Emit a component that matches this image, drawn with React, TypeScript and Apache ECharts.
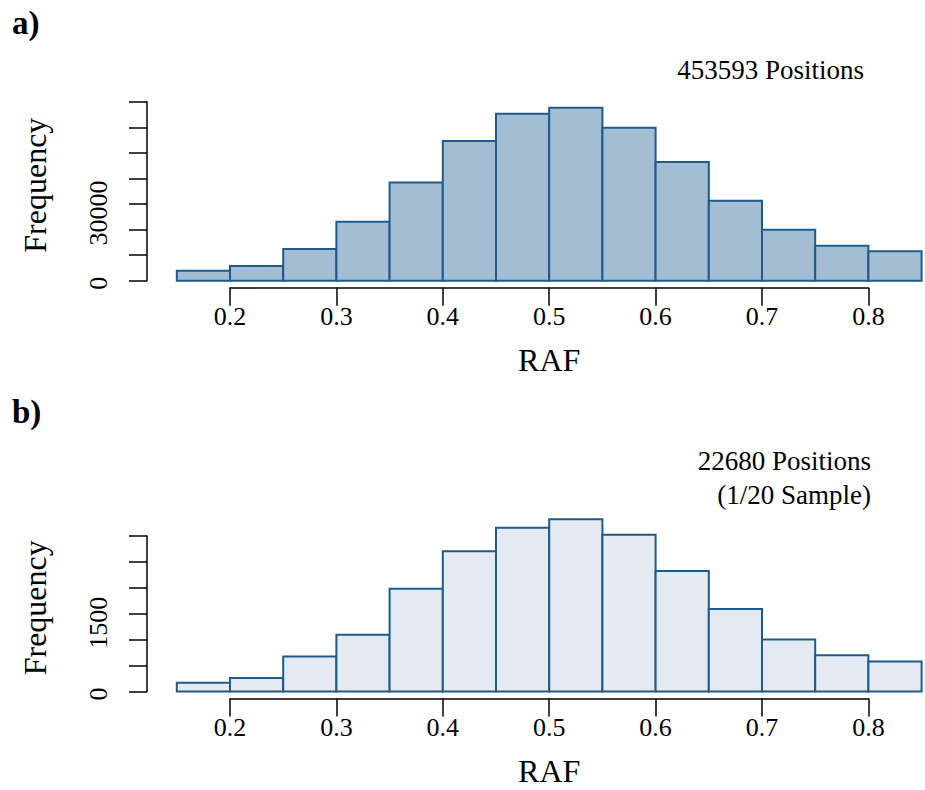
import React, { useEffect, useRef } from "react";
import * as echarts from "echarts";

// Histogram break points (RAF)
const breaks = [0.15, 0.2, 0.25, 0.3, 0.35, 0.4, 0.45, 0.5, 0.55, 0.6, 0.65, 0.7, 0.75, 0.8, 0.85];
// Panel a) counts: all 453593 positions
const countsAll = [3900, 5750, 12400, 23050, 38450, 54600, 65300, 67650, 59800, 46400, 31300, 19950, 13700, 11500];
// Panel b) counts: 1/20 sample, 22680 positions
const countsSample = [170, 260, 675, 1095, 1980, 2705, 3160, 3325, 3025, 2325, 1590, 1005, 700, 580];
// Tick labels that are printed on the frequency axes
const yLabelsTop = [0, 30000];
const yLabelsBottom = [0, 1500];
const xTickLabels = ["0.2", "0.3", "0.4", "0.5", "0.6", "0.7", "0.8"];

const STROKE = "#1d5a8e";
const FILL_A = "#a4bdd2";
const FILL_B = "#e3eaf1";
const FONT = "'Liberation Serif', 'Times New Roman', serif";

function binData(counts: number[]) {
  return counts.map((c, i) => [breaks[i], breaks[i + 1], c]);
}

function makeRender(fill: string) {
  return (params: any, api: any) => {
    const s = api.value(0);
    const e = api.value(1);
    const c = api.value(2);
    const p0 = api.coord([s, c]);
    const p1 = api.coord([e, 0]);
    return {
      type: "rect",
      shape: { x: p0[0], y: p0[1], width: p1[0] - p0[0], height: p1[1] - p0[1] },
      style: { fill, stroke: STROKE, lineWidth: 2 },
    };
  };
}

function xAxisCfg(gridIndex: number) {
  return {
    type: "value",
    gridIndex,
    min: 0.2,
    max: 0.8,
    interval: 0.1,
    offset: 7,
    name: "RAF",
    nameLocation: "middle",
    nameGap: 56,
    nameTextStyle: { fontFamily: FONT, fontSize: 32, color: "#000" },
    axisLine: { show: true, onZero: false, lineStyle: { color: "#000", width: 1.5 } },
    axisTick: { show: true, length: 18, lineStyle: { color: "#000", width: 1.5 } },
    axisLabel: {
      margin: 16,
      fontFamily: FONT,
      fontSize: 26,
      color: "#000",
      formatter: (v: number) => {
        const s = v.toFixed(1);
        return xTickLabels.indexOf(s) >= 0 ? s : "";
      },
    },
    splitLine: { show: false },
  };
}

function yAxisCfg(gridIndex: number, max: number, interval: number, shown: number[]) {
  const lab = { fontFamily: FONT, fontSize: 26, color: "#000" };
  return {
    type: "value",
    gridIndex,
    min: 0,
    max,
    interval,
    offset: 83,
    name: "Frequency",
    nameLocation: "middle",
    nameGap: 96,
    nameRotate: 90,
    nameTextStyle: { fontFamily: FONT, fontSize: 32, color: "#000", padding: [0, 0, 0, 12] },
    axisLine: { show: true, lineStyle: { color: "#000", width: 1.5 } },
    axisTick: { show: true, length: 18, lineStyle: { color: "#000", width: 1.5 } },
    axisLabel: {
      rotate: 90,
      margin: 36,
      ...lab,
      formatter: (v: number) => {
        if (shown.indexOf(v) < 0) return "";
        return v === 0 ? `{z|${v}}` : `{n|${v}}`;
      },
      rich: {
        z: { ...lab, padding: [0, 5, 0, 0] },
        n: { ...lab, padding: [0, 18, 0, 0] },
      },
    },
    splitLine: { show: false },
  };
}

export default function App() {
  const ref = useRef<HTMLDivElement>(null);
  useEffect(() => {
    document.body.style.margin = "0";
    const chart = echarts.init(ref.current!, undefined, { renderer: "svg" });
    chart.setOption({
      animation: false,
      backgroundColor: "#fff",
      grid: [
        { left: 230, top: 101.7, width: 638.4, height: 179 },
        { left: 230, top: 536, width: 638.4, height: 155.5 },
      ],
      xAxis: [xAxisCfg(0), xAxisCfg(1)],
      yAxis: [
        yAxisCfg(0, 70000, 10000, yLabelsTop),
        yAxisCfg(1, 3000, 500, yLabelsBottom),
      ],
      series: [
        {
          type: "custom",
          xAxisIndex: 0,
          yAxisIndex: 0,
          renderItem: makeRender(FILL_A),
          encode: { x: [0, 1], y: 2 },
          data: binData(countsAll),
          clip: false,
        },
        {
          type: "custom",
          xAxisIndex: 1,
          yAxisIndex: 1,
          renderItem: makeRender(FILL_B),
          encode: { x: [0, 1], y: 2 },
          data: binData(countsSample),
          clip: false,
        },
      ],
      graphic: [
        {
          type: "text",
          x: 12,
          y: 23,
          style: { text: "a)", font: `bold 33px ${FONT}`, fill: "#000", verticalAlign: "middle" },
        },
        {
          type: "text",
          x: 12,
          y: 412,
          style: { text: "b)", font: `bold 33px ${FONT}`, fill: "#000", verticalAlign: "middle" },
        },
        {
          type: "text",
          x: 864,
          y: 70,
          style: {
            text: "453593 Positions",
            font: `27px ${FONT}`,
            fill: "#000",
            align: "right",
            verticalAlign: "middle",
          },
        },
        {
          type: "text",
          x: 871,
          y: 478,
          style: {
            text: "22680 Positions\n(1/20 Sample)",
            font: `27px ${FONT}`,
            lineHeight: 34,
            fill: "#000",
            align: "right",
            verticalAlign: "middle",
          },
        },
      ],
    });
    return () => chart.dispose();
  }, []);
  return <div ref={ref} style={{ width: 925, height: 790 }} />;
}
